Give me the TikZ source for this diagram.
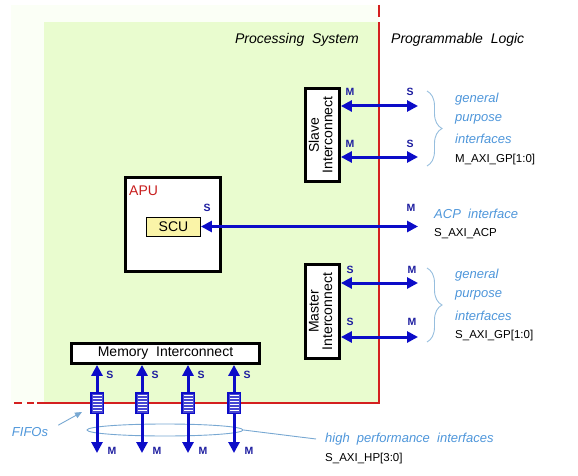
\documentclass[tikz,border=0pt]{standalone}
\usepackage{fontspec}
\setmainfont{Liberation Sans}
\usepackage{graphicx}
\usetikzlibrary{arrows.meta,shapes.geometric,decorations.pathreplacing,calc}
\definecolor{psgreen}{RGB}{233,252,207}
\definecolor{faintgreen}{RGB}{251,255,246}
\definecolor{redline}{RGB}{212,32,32}
\definecolor{apured}{RGB}{200,30,30}
\definecolor{arrblue}{RGB}{12,12,200}
\definecolor{portblue}{RGB}{30,30,160}
\definecolor{noteblue}{RGB}{78,150,218}
\definecolor{scuyellow}{RGB}{250,244,168}
\definecolor{fifoblue}{RGB}{70,70,210}
\definecolor{bracecol}{RGB}{150,190,222}
\definecolor{ellcol}{RGB}{120,168,210}
\begin{document}
\begin{tikzpicture}[x=1pt,y=-1pt,
  box/.style={draw=black,line width=2.8pt,fill=white,inner sep=0pt,font=\fontsize{14}{13}\selectfont},
  biarrow/.style={draw=arrblue,line width=3pt,{Triangle[length=11pt,width=11pt]}-{Triangle[length=11pt,width=11pt]}},
  onearrow/.style={draw=arrblue,line width=3pt,-{Triangle[length=11pt,width=11pt]}},
  port/.style={font=\fontsize{10.5}{10.5}\selectfont\bfseries,text=portblue,inner sep=0pt},
  note/.style={font=\fontsize{13}{13}\selectfont\itshape,text=noteblue,inner sep=0pt,anchor=west},
  sig/.style={font=\fontsize{11.5}{11.5}\selectfont,text=black,inner sep=0pt,anchor=west},
  titletext/.style={font=\fontsize{14}{14}\selectfont\itshape,inner sep=0pt},
  fifo/.style={draw=arrblue,line width=1.5pt,fill=fifoblue,minimum width=12.5pt,minimum height=20.5pt,inner sep=0pt},
  bracepath/.style={draw=bracecol,line width=0.9pt,decorate,decoration={brace,amplitude=15pt}},
  redl/.style={draw=redline,line width=2.4pt},
  pointer/.style={draw=ellcol,line width=0.9pt,-{Triangle[length=7pt,width=6pt]}},
]
\useasboundingbox (0,0) rectangle (578,476);
% background regions
\fill[faintgreen] (11,5) rectangle (379,403);
\fill[psgreen] (44,22) rectangle (379,403);
\draw[redl] (379,22) -- (379,403) -- (37,403);
\draw[redl] (379,5) -- (379,17);
\draw[redl,dash pattern=on 8pt off 5pt] (14,403) -- (34,403);

% titles
\node[titletext,anchor=east] (ps) at (359,40) {Processing\ \ System};
\node[titletext,anchor=west] (pl) at (391,40) {Programmable\ \ Logic};

% slave interconnect
\node[box,minimum width=34pt,minimum height=93pt] (slave) at (322.5,135)
  {\rotatebox{90}{\begin{tabular}{@{}c@{}}Slave\\Interconnect\end{tabular}}};
\coordinate (sgA) at (418,106);
\coordinate (sgB) at (418,157);
\draw[biarrow] (slave.east |- sgA) -- (sgA);
\draw[biarrow] (slave.east |- sgB) -- (sgB);
\node[port] (sgAm) at (350,92) {M};
\node[port] (sgAs) at (410,92) {S};
\node[port] (sgBm) at (350,144) {M};
\node[port] (sgBs) at (410,144) {S};
\coordinate (br1t) at (427,91);
\coordinate (br1b) at (427,166);
\draw[bracepath] (br1t) -- (br1b);
\node[note] (ga1) at (455,99) {general};
\node[note] (ga2) at (455,119) {purpose};
\node[note] (ga3) at (455,139) {interfaces};
\node[sig] (ga4) at (455,160) {M\_AXI\_GP[1:0]};

% APU
\node[box,minimum width=95pt,minimum height=94pt] (apu) at (173,224.5) {};
\node[anchor=west,inner sep=0pt,text=apured,font=\fontsize{14}{14}\selectfont] (apul) at (129,191) {APU};
\node[draw=black,line width=0.9pt,fill=scuyellow,minimum width=54pt,minimum height=19pt,inner sep=0pt,font=\fontsize{14}{14}\selectfont] (scu) at (173.5,226.5) {SCU};
\node[port] (scus) at (207,208) {S};
\coordinate (acp) at (418,226.5);
\draw[biarrow] (scu.east) -- (acp);
\node[port] (acpm) at (411,208) {M};
\node[note] (acpt) at (434,214) {ACP\ \ interface};
\node[sig] (acps) at (434,234) {S\_AXI\_ACP};

% master interconnect
\node[box,minimum width=34pt,minimum height=94pt] (master) at (322.5,311.5)
  {\rotatebox{90}{\begin{tabular}{@{}c@{}}Master\\Interconnect\end{tabular}}};
\coordinate (mgA) at (418,283);
\coordinate (mgB) at (418,337);
\draw[biarrow] (master.east |- mgA) -- (mgA);
\draw[biarrow] (master.east |- mgB) -- (mgB);
\node[port] (mgAs) at (350,270) {S};
\node[port] (mgAm) at (412,270) {M};
\node[port] (mgBs) at (350,322) {S};
\node[port] (mgBm) at (412,322) {M};
\coordinate (br2t) at (427,268);
\coordinate (br2b) at (427,342);
\draw[bracepath] (br2t) -- (br2b);
\node[note] (gb1) at (455,275) {general};
\node[note] (gb2) at (455,295) {purpose};
\node[note] (gb3) at (455,316) {interfaces};
\node[sig] (gb4) at (455,336) {S\_AXI\_GP[1:0]};

% memory interconnect
\node[box,minimum width=188pt,minimum height=20pt] (mem) at (165.5,353.5) {Memory\ \ Interconnect};

% ellipse and high performance label
\node[ellipse,draw=ellcol,line width=0.9pt,minimum width=156pt,minimum height=12pt,inner sep=0pt] (ell) at (165,430) {};
\node[note] (hp) at (325,439) {high\ \ performance\ \ interfaces};
\node[sig] (hps) at (325,459) {S\_AXI\_HP[3:0]};
\draw[draw=ellcol,line width=0.9pt] (ell.east) -- ([xshift=-9pt]hp.west);

% FIFOs and HP arrows
\foreach \i/\x in {1/97,2/142,3/188,4/234}{
  \node[fifo] (f\i) at (\x,403) {};
  \foreach \k in {1,...,6}
    \draw[white,line width=1.2pt] ($(f\i.north west)+(2.5,0.5+3*\k)$) -- ($(f\i.north east)+(-2.5,0.5+3*\k)$);
  \coordinate (hm\i) at (\x,453);
  \draw[onearrow] (f\i.north) -- (mem.south -| f\i);
  \draw[onearrow] (f\i.south) -- (hm\i);
  \node[port] (hs\i) at (\x+13,375) {S};
  \node[port] (hmm\i) at (\x+15,451) {M};
}
\node[note,anchor=center] (fifos) at (30,432) {FIFOs};
\draw[pointer] ([shift={(10,-2)}]fifos.north east) -- ([shift={(-8,-2)}]f1.south west);
\end{tikzpicture}
\end{document}
